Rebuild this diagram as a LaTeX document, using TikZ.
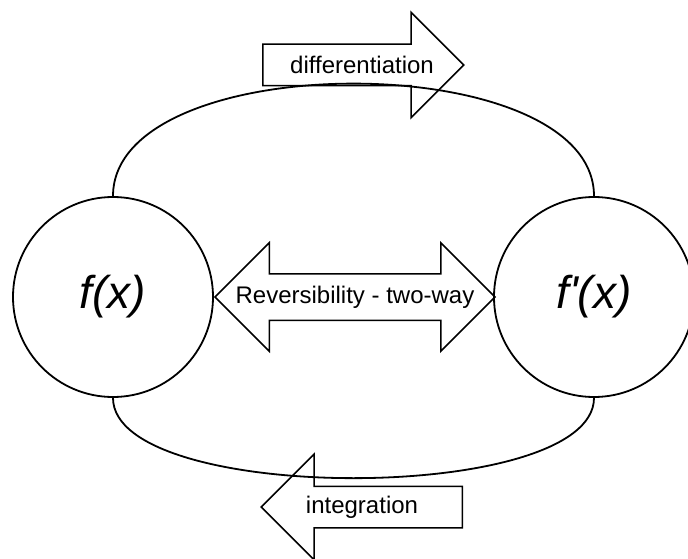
\documentclass[tikz,border=0pt]{standalone}
\usepackage{fontspec}
\setmainfont{Liberation Sans}
\usepackage{tikz}
\usetikzlibrary{shapes.arrows}

\begin{document}
\begin{tikzpicture}[x=1pt,y=-1pt,line width=1.8pt,
    fn/.style={circle,draw,minimum size=200pt,inner sep=0pt,font=\fontsize{46}{50}\selectfont\itshape},
    way/.style={draw,line width=1.5pt,text height=17pt,text depth=5pt,inner ysep=9pt,inner xsep=0pt,
      single arrow head extend=32pt,double arrow head extend=31pt},
    lbl/.style={font=\fontsize{24}{27}\selectfont}]
    \useasboundingbox (0,0) rectangle (688,559);
    \node[fn] (fx) at (113,297) {f(x)};
    \node[fn] (dfx) at (594,297) {f\textquotesingle(x)};
    \node[way,single arrow,minimum height=201pt,anchor=tail] (diff) at (262,65) {};
    \node[lbl] (difftext) at (362,65) {differentiation};
    \node[way,single arrow,shape border rotate=180,minimum height=201pt,anchor=tail] (int) at (463,507) {};
    \node[lbl] (inttext) at (362,507) {integration};
    \node[way,lbl,double arrow,minimum height=280pt,text height=19pt,text depth=6pt,inner ysep=10pt] (rev) at (355,297) {\makebox[200pt]{Reversibility - two-way}};
    \draw (fx.north) .. controls +(0,-150) and +(0,-150) .. (dfx.north);
    \draw (fx.south) .. controls +(0,107) and +(0,107) .. (dfx.south);
  \end{tikzpicture}
\end{document}
